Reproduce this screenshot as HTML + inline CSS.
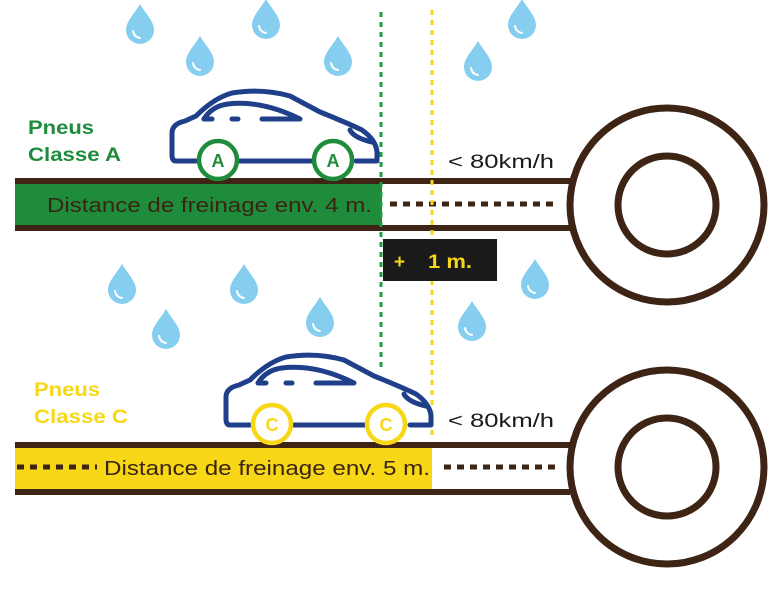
<!DOCTYPE html>
<html><head><meta charset="utf-8"><style>
html,body{margin:0;padding:0;background:#fff;}
svg{display:block;}
text{font-family:"Liberation Sans",sans-serif;}
</style></head><body>
<svg width="770" height="595" viewBox="0 0 770 595" xmlns="http://www.w3.org/2000/svg">
<defs>
<g id="drop"><path d="M0,-25 C5,-16 14,-8 14,1 A14,14 0 0 1 -14,1 C-14,-8 -5,-16 0,-25 Z" fill="#86ceef"/><path d="M-7,2 Q-6,8 0,9" stroke="#fff" stroke-width="2" fill="none" stroke-linecap="round"/></g>
<g id="car" fill="none" stroke="#1f3f8a" stroke-width="5" stroke-linecap="round" stroke-linejoin="round">
<path d="M196,161 L176,161 Q172,161 172,155 L172,133 Q172,124 185,121 L196,116 Q214,98 232,93 Q262,88 290,96 L320,112 Q345,122 362,130 Q376,140 377,152 L377,161 L356,161"/>
<path d="M240,161 L311,161"/>
<path d="M204,119 Q212,106 228,104 Q262,100 300,119 L262,119"/>
<path d="M204,119 L212,119 M232,119 L238,119"/>
<path d="M350,130 Q354,138 372,142"/>
</g>
</defs>
<use href="#drop" x="140" y="29"/>
<use href="#drop" x="200" y="61"/>
<use href="#drop" x="266" y="24"/>
<use href="#drop" x="338" y="61"/>
<use href="#drop" x="522" y="24"/>
<use href="#drop" x="478" y="66"/>
<use href="#drop" x="122" y="289"/>
<use href="#drop" x="244" y="289"/>
<use href="#drop" x="166" y="334"/>
<use href="#drop" x="320" y="322"/>
<use href="#drop" x="472" y="326"/>
<use href="#drop" x="535" y="284"/>

<rect x="15" y="184" width="367" height="41" fill="#1e8c3a"/>
<rect x="15" y="178" width="555" height="6" fill="#3d2415"/>
<rect x="15" y="225" width="555" height="6" fill="#3d2415"/>
<circle cx="667" cy="205" r="97" fill="#fff" stroke="#3d2415" stroke-width="7"/>
<circle cx="667" cy="205" r="49" fill="none" stroke="#3d2415" stroke-width="7"/>
<line x1="390" y1="204" x2="555" y2="204" stroke="#3d2415" stroke-width="5" stroke-dasharray="7,6"/>
<text x="47" y="212" font-size="20" fill="#3a2412" textLength="325" lengthAdjust="spacingAndGlyphs">Distance de freinage env. 4 m.</text>

<rect x="15" y="448" width="417" height="41" fill="#f7d716"/>
<rect x="15" y="442" width="555" height="6" fill="#3d2415"/>
<rect x="15" y="489" width="555" height="6" fill="#3d2415"/>
<circle cx="667" cy="467" r="97" fill="#fff" stroke="#3d2415" stroke-width="7"/>
<circle cx="667" cy="467" r="49" fill="none" stroke="#3d2415" stroke-width="7"/>
<line x1="17" y1="467" x2="97" y2="467" stroke="#3d2415" stroke-width="5" stroke-dasharray="7,6"/>
<line x1="444" y1="467" x2="557" y2="467" stroke="#3d2415" stroke-width="5" stroke-dasharray="7,6"/>
<text x="104" y="475" font-size="20" fill="#3a2412" textLength="326" lengthAdjust="spacingAndGlyphs">Distance de freinage env. 5 m.</text>

<line x1="381" y1="12" x2="381" y2="370" stroke="#1e9c45" stroke-width="3" stroke-dasharray="5,5"/>
<line x1="432" y1="10" x2="432" y2="440" stroke="#f7d716" stroke-width="3" stroke-dasharray="5,5"/>

<rect x="383" y="239" width="114" height="42" fill="#1a1a1a"/>
<text x="394" y="268" font-size="19" font-weight="bold" fill="#f7d716">+</text>
<text x="428" y="268" font-size="19" font-weight="bold" fill="#f7d716" textLength="44" lengthAdjust="spacingAndGlyphs">1 m.</text>

<text x="28" y="134" font-size="19" font-weight="bold" fill="#1e8c3a" textLength="66" lengthAdjust="spacingAndGlyphs">Pneus</text>
<text x="28" y="161" font-size="19" font-weight="bold" fill="#1e8c3a" textLength="93" lengthAdjust="spacingAndGlyphs">Classe A</text>
<text x="34" y="396" font-size="19" font-weight="bold" fill="#f7d716" textLength="66" lengthAdjust="spacingAndGlyphs">Pneus</text>
<text x="34" y="423" font-size="19" font-weight="bold" fill="#f7d716" textLength="94" lengthAdjust="spacingAndGlyphs">Classe C</text>
<text x="448" y="168" font-size="19" fill="#1a1a1a" textLength="106" lengthAdjust="spacingAndGlyphs">&lt; 80km/h</text>
<text x="448" y="427" font-size="19" fill="#1a1a1a" textLength="106" lengthAdjust="spacingAndGlyphs">&lt; 80km/h</text>

<use href="#car"/>
<circle cx="218" cy="160" r="19" fill="#fff" stroke="#1e8c3a" stroke-width="4.5"/>
<circle cx="333" cy="160" r="19" fill="#fff" stroke="#1e8c3a" stroke-width="4.5"/>
<text x="218" y="167" font-size="18" font-weight="bold" fill="#1e8c3a" text-anchor="middle">A</text>
<text x="333" y="167" font-size="18" font-weight="bold" fill="#1e8c3a" text-anchor="middle">A</text>

<use href="#car" transform="translate(54,264)"/>
<circle cx="272" cy="424" r="19" fill="#fff" stroke="#f7d716" stroke-width="4.5"/>
<circle cx="386" cy="424" r="19" fill="#fff" stroke="#f7d716" stroke-width="4.5"/>
<text x="272" y="431" font-size="18" font-weight="bold" fill="#f7d716" text-anchor="middle">C</text>
<text x="386" y="431" font-size="18" font-weight="bold" fill="#f7d716" text-anchor="middle">C</text>
</svg>
</body></html>
